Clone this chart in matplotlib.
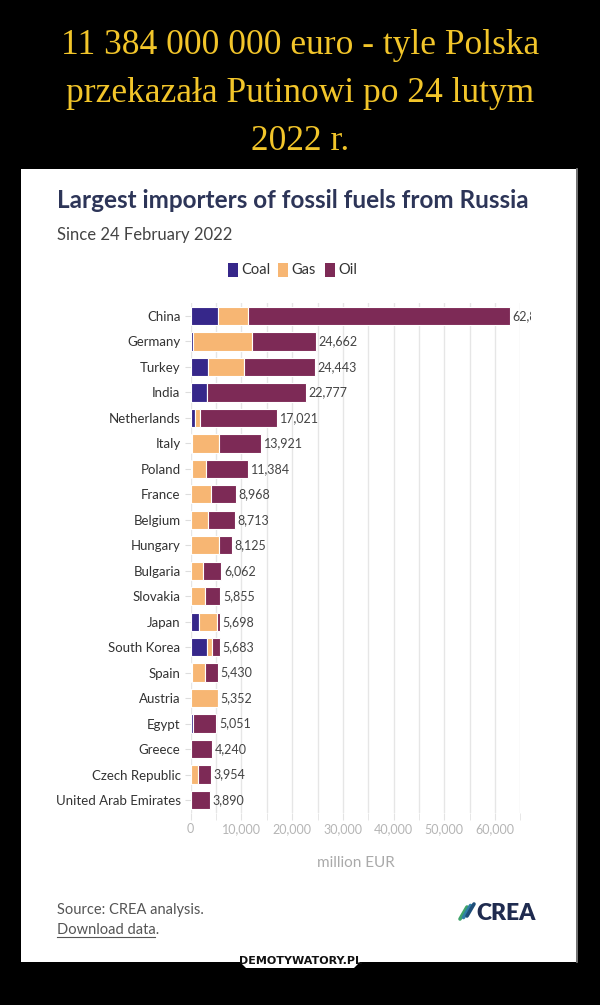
import matplotlib.pyplot as plt
import numpy as np
from matplotlib.patches import Rectangle, Polygon
from matplotlib.transforms import Bbox, TransformedBbox

W, H = 600, 1005

countries = ['China', 'Germany', 'Turkey', 'India', 'Netherlands', 'Italy', 'Poland',
             'France', 'Belgium', 'Hungary', 'Bulgaria', 'Slovakia', 'Japan',
             'South Korea', 'Spain', 'Austria', 'Egypt', 'Greece', 'Czech Republic',
             'United Arab Emirates']
coal = [5460, 500, 3350, 3160, 900, 250, 250, 100, 150, 0, 0, 0, 1580,
        3160, 200, 0, 400, 0, 0, 0]
gas = [5790, 11650, 7170, 0, 900, 5350, 2780, 3810, 3300, 5500, 2400, 2900, 3580,
       1000, 2700, 5352, 0, 0, 1400, 0]
oil = [51610, 12512, 13923, 19617, 15221, 8321, 8354, 5058, 5263, 2625, 3662, 2955, 538,
       1523, 2530, 0, 4651, 4240, 2554, 3890]
totals = [62860, 24662, 24443, 22777, 17021, 13921, 11384, 8968, 8713, 8125, 6062, 5855,
          5698, 5683, 5430, 5352, 5051, 4240, 3954, 3890]

x_ticks = [0, 10000, 20000, 30000, 40000, 50000, 60000]

c_coal = '#36278a'
c_gas = '#f7b673'
c_oil = '#7d2a56'


def fx(x):
    return x / W


def fy(y):
    return 1 - y / H


fig = plt.figure(figsize=(6, 10.05), dpi=100, facecolor='black')

# white panel
fig.patches.append(Rectangle((fx(21), fy(962)), fx(576 - 21), (962 - 169) / H,
                             transform=fig.transFigure, facecolor='white',
                             edgecolor='none', zorder=-2))
fig.lines.append(plt.Line2D([fx(577), fx(577)], [fy(169), fy(962)],
                            transform=fig.transFigure, color='#8a8a8a', lw=1.2))

# yellow header
header = ['11 384 000 000 euro - tyle Polska', 'przekazała Putinowi po 24 lutym', '2022 r.']
for i, line in enumerate(header):
    fig.text(0.5, fy(46 + 48 * i), line, ha='center', va='center',
             family='Liberation Serif', fontsize=25.5, color='#f2c52a')

# chart title
fig.text(fx(57), fy(201), 'Largest importers of fossil fuels from Russia',
         family='Lato', weight='bold', fontsize=17.5, color='#2d3558', va='center')
fig.text(fx(57), fy(235), 'Since 24 February 2022', family='Lato', fontsize=12,
         color='#444444', va='center')

# legend
for x0, lab, col in [(228, 'Coal', c_coal), (278, 'Gas', c_gas), (325, 'Oil', c_oil)]:
    fig.patches.append(Rectangle((fx(x0), fy(277)), fx(10), 14 / H,
                                 transform=fig.transFigure, facecolor=col,
                                 edgecolor='none'))
    fig.text(fx(x0 + 13), fy(270), lab, family='Lato', fontsize=10.5,
             color='#333333', va='center')

# bars
ax = fig.add_axes([fx(190.7), fy(813), fx(520.4 - 190.7), (813 - 303) / H], zorder=2)
ax.set_facecolor('none')
y = np.arange(len(countries))
coal_a = np.array(coal)
gas_a = np.array(gas)
oil_a = np.array(oil)
kw = dict(height=0.72, edgecolor='white', linewidth=0.8, zorder=3)
ax.barh(y, coal_a, color=c_coal, **kw)
ax.barh(y, gas_a, left=coal_a, color=c_gas, **kw)
ax.barh(y, oil_a, left=coal_a + gas_a, color=c_oil, **kw)

# the biggest label is cut off at the chart's edge in the original
clip = TransformedBbox(Bbox([[0, 0], [531 / W, 1]]), fig.transFigure)
for i, t in enumerate(totals):
    txt = ax.text(t + 500, i, f'{t:,}', va='center', ha='left', family='Lato',
                  fontsize=9, color='#444444', zorder=4)
    txt.set_clip_box(clip)
    txt.set_clip_on(True)

ax.set_xlim(0, 65000)
ax.set_ylim(19.51, -0.51)
ax.set_yticks(y)
ax.set_yticklabels(countries, family='Lato', fontsize=9.5, color='#333333')
ax.set_xticks(x_ticks)
ax.set_xticklabels([f'{v:,}' for v in x_ticks], family='Lato', fontsize=9,
                   color='#b5b5b5')
ax.set_xticks(np.arange(5000, 65001, 10000), minor=True)
ax.tick_params(axis='y', length=4.3, color='#dddddd', pad=3)
ax.tick_params(axis='x', which='both', length=5, color='#e3e3e3', pad=2)
ax.grid(axis='x', which='both', color='#e6e6e6', lw=1, zorder=0)
for s in ax.spines.values():
    s.set_visible(False)

fig.text(fx(356), fy(863), 'million EUR', family='Lato', fontsize=11,
         color='#aaaaaa', ha='center', va='center')

# footer
fig.text(fx(57), fy(910), 'Source: CREA analysis.', family='Lato', fontsize=10.5,
         color='#555555', va='center')
fig.text(fx(57), fy(930), 'Download data.', family='Lato', fontsize=10.5,
         color='#555555', va='center')
fig.lines.append(plt.Line2D([fx(57), fx(155)], [fy(937), fy(937)],
                            transform=fig.transFigure, color='#555555', lw=0.8))

# CREA logo
for k, col in enumerate(['#3fa36b', '#2f7fa8', '#1f4f7a']):
    x0 = 460 + k * 3.5
    fig.lines.append(plt.Line2D([fx(x0), fx(x0 + 7)], [fy(919 - k * 1.5), fy(907 - k * 1.5)],
                                transform=fig.transFigure, color=col, lw=2.6,
                                solid_capstyle='round'))
fig.text(fx(476), fy(913), 'CREA', family='Lato', weight='heavy', fontsize=16.5,
         color='#1f2b4f', va='center')

# demotywatory badge
badge = [(fx(240), fy(955)), (fx(360), fy(955)), (fx(360), fy(962)),
         (fx(354), fy(968)), (fx(246), fy(968)), (fx(240), fy(962))]
fig.patches.append(Polygon(badge, closed=True, transform=fig.transFigure,
                           facecolor='white', edgecolor='none', zorder=-1))
fig.text(0.5, fy(961), 'DEMOTYWATORY.PL', family=['Liberation Sans Narrow', 'DejaVu Sans'],
         weight='bold', fontsize=8, color='#111111', ha='center', va='center')

fig.savefig('out.png', dpi=100, facecolor='black')
